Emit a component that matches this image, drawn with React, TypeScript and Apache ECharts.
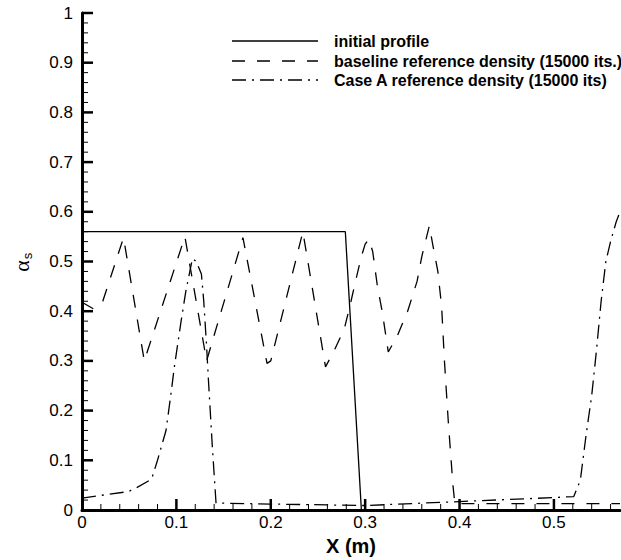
import React, { useEffect, useRef } from "react";
import * as echarts from "echarts";

// ---- data ----
const initX = [0, 0.279, 0.296, 0.57];
const initY = [0.56, 0.56, 0, 0];

const baseX = [0, 0.012, 0.022, 0.044, 0.066, 0.109, 0.132, 0.1705, 0.196, 0.2, 0.234, 0.258, 0.267, 0.278, 0.285, 0.291, 0.296, 0.3, 0.304, 0.308, 0.313, 0.318, 0.321, 0.3245, 0.334, 0.345, 0.355, 0.36, 0.368, 0.372, 0.377, 0.381, 0.384, 0.388, 0.393, 0.395, 0.57];
const baseY = [0.418, 0.405, 0.42, 0.548, 0.3, 0.55, 0.3, 0.548, 0.295, 0.3, 0.56, 0.288, 0.32, 0.365, 0.42, 0.47, 0.51, 0.535, 0.545, 0.52, 0.45, 0.4, 0.362, 0.318, 0.35, 0.4, 0.46, 0.51, 0.572, 0.53, 0.48, 0.41, 0.3, 0.18, 0.05, 0.013, 0.013];

const caseX = [0, 0.026, 0.049, 0.058, 0.0737, 0.08, 0.089, 0.094, 0.098, 0.105, 0.11, 0.117, 0.121, 0.1265, 0.129, 0.132, 0.134, 0.138, 0.142, 0.2, 0.3, 0.4, 0.5, 0.521, 0.528, 0.534, 0.54, 0.545, 0.55, 0.555, 0.56, 0.566, 0.57];
const caseY = [0.024, 0.031, 0.037, 0.045, 0.062, 0.1, 0.16, 0.23, 0.29, 0.38, 0.44, 0.506, 0.5, 0.475, 0.42, 0.33, 0.26, 0.13, 0.014, 0.012, 0.009, 0.017, 0.025, 0.027, 0.06, 0.15, 0.23, 0.32, 0.42, 0.5, 0.54, 0.58, 0.6];

const legendNames = [
  "initial profile",
  "baseline reference density (15000 its.)",
  "Case A reference density (15000 its)",
];

// tick positions
const xMajorTicks = [0.1, 0.2, 0.3, 0.4, 0.5];
const xMinorTicks = [0.02, 0.04, 0.06, 0.08, 0.12, 0.14, 0.16, 0.18, 0.22, 0.24, 0.26, 0.28, 0.32, 0.34, 0.36, 0.38, 0.42, 0.44, 0.46, 0.48, 0.52, 0.54, 0.56];
const yMajorTicks = [0.1, 0.2, 0.3, 0.4, 0.5, 0.6, 0.7, 0.8, 0.9, 1];
const yMinorTicks = [0.02, 0.04, 0.06, 0.08, 0.12, 0.14, 0.16, 0.18, 0.22, 0.24, 0.26, 0.28, 0.32, 0.34, 0.36, 0.38, 0.42, 0.44, 0.46, 0.48, 0.52, 0.54, 0.56, 0.58, 0.62, 0.64, 0.66, 0.68, 0.72, 0.74, 0.76, 0.78, 0.82, 0.84, 0.86, 0.88, 0.92, 0.94, 0.96, 0.98];

const X_MIN = 0;
const X_MAX = 0.57;
const Y_MIN = 0;
const Y_MAX = 1;
const MAJOR = 0.1;

const FONT = "'Liberation Sans', Arial, Helvetica, sans-serif";
const DASH = [13, 12];
const DASHDOT = [14, 6, 2, 6];
const LW = 1.3;
const pairs = (xs: number[], ys: number[]) => xs.map((x, i) => [x, ys[i]]);

// the chart canvas is a little larger than the visible page, so nothing sits at its edge
const CW = 660;
const CH = 590;

function tickSeries(axis: "x" | "y"): any {
  const maj = axis === "x" ? xMajorTicks : yMajorTicks;
  const min = axis === "x" ? xMinorTicks : yMinorTicks;
  const data = [
    ...maj.map((v) => (axis === "x" ? [v, Y_MIN, 1] : [X_MIN, v, 1])),
    ...min.map((v) => (axis === "x" ? [v, Y_MIN, 0] : [X_MIN, v, 0])),
  ];
  return {
    type: "custom",
    coordinateSystem: "cartesian2d",
    silent: true,
    clip: false,
    z: 6,
    data,
    encode: { x: 0, y: 1 },
    renderItem: (_p: any, api: any) => {
      const pt = api.coord([api.value(0), api.value(1)]);
      const major = api.value(2) === 1;
      const len = major ? 11 : 6;
      const shape =
        axis === "x"
          ? { x1: pt[0], y1: pt[1], x2: pt[0], y2: pt[1] - len }
          : { x1: pt[0], y1: pt[1], x2: pt[0] + len, y2: pt[1] };
      return {
        type: "line",
        shape,
        style: { stroke: "#000", lineWidth: major ? 2.5 : 1 },
      };
    },
  };
}

function buildOption(): any {
  const legendY = [41, 61, 80];
  const styles = [undefined, DASH, DASHDOT];
  const lg: any[] = [];
  legendNames.forEach((name, i) => {
    lg.push({
      type: "line",
      shape: { x1: 232, y1: legendY[i], x2: 318, y2: legendY[i] },
      style: { stroke: "#000", lineWidth: LW, lineDash: styles[i] },
      silent: true,
    });
    lg.push({
      type: "text",
      x: 334,
      y: legendY[i],
      style: { text: name, fill: "#000", font: `bold 16px ${FONT}`, verticalAlign: "middle" },
      silent: true,
    });
  });
  lg.push({
    type: "text",
    x: 21,
    y: 266,
    rotation: Math.PI / 2,
    silent: true,
    style: {
      text: "α",
      fill: "#000",
      font: "22px 'Liberation Serif', 'DejaVu Serif', serif",
      align: "center",
      verticalAlign: "middle",
    },
  });
  lg.push({
    type: "text",
    x: 27.5,
    y: 256,
    rotation: Math.PI / 2,
    silent: true,
    style: { text: "s", fill: "#000", font: `13px ${FONT}`, align: "center", verticalAlign: "middle" },
  });
  return {
    animation: false,
    backgroundColor: "#fff",
    grid: { left: 82, right: CW - 620, top: 13, bottom: CH - 510 },
    xAxis: {
      type: "value",
      min: X_MIN,
      max: X_MAX,
      interval: MAJOR,
      axisLine: { show: true, lineStyle: { color: "#000", width: 3 } },
      axisTick: { show: false },
      minorTick: { show: false },
      axisLabel: { color: "#000", fontSize: 17, fontFamily: FONT, margin: 4, showMaxLabel: false },
      splitLine: { show: false },
      name: "X (m)",
      nameLocation: "middle",
      nameGap: 20,
      nameTextStyle: { color: "#000", fontSize: 20, fontWeight: "bold", fontFamily: FONT },
    },
    yAxis: {
      type: "value",
      min: Y_MIN,
      max: Y_MAX,
      interval: MAJOR,
      axisLine: { show: true, lineStyle: { color: "#000", width: 3 } },
      axisTick: { show: false },
      minorTick: { show: false },
      axisLabel: { color: "#000", fontSize: 17, fontFamily: FONT, margin: 9 },
      splitLine: { show: false },
    },
    series: [
      { type: "line", data: pairs(initX, initY), symbol: "none", lineStyle: { color: "#000", width: LW, type: "solid" } },
      { type: "line", data: pairs(baseX, baseY), symbol: "none", lineStyle: { color: "#000", width: LW, type: DASH } },
      { type: "line", data: pairs(caseX, caseY), symbol: "none", lineStyle: { color: "#000", width: LW, type: DASHDOT } },
      tickSeries("x"),
      tickSeries("y"),
    ],
    graphic: lg,
  };
}

export default function App() {
  const ref = useRef<HTMLDivElement>(null);
  useEffect(() => {
    if (!ref.current) return;
    const chart = echarts.init(ref.current, null, { renderer: "svg" });
    chart.setOption(buildOption());
    return () => chart.dispose();
  }, []);
  return (
    <div style={{ position: "absolute", left: 0, top: 0, width: 621, height: 560, overflow: "hidden" }}>
      <div ref={ref} style={{ width: CW, height: CH }} />
    </div>
  );
}
